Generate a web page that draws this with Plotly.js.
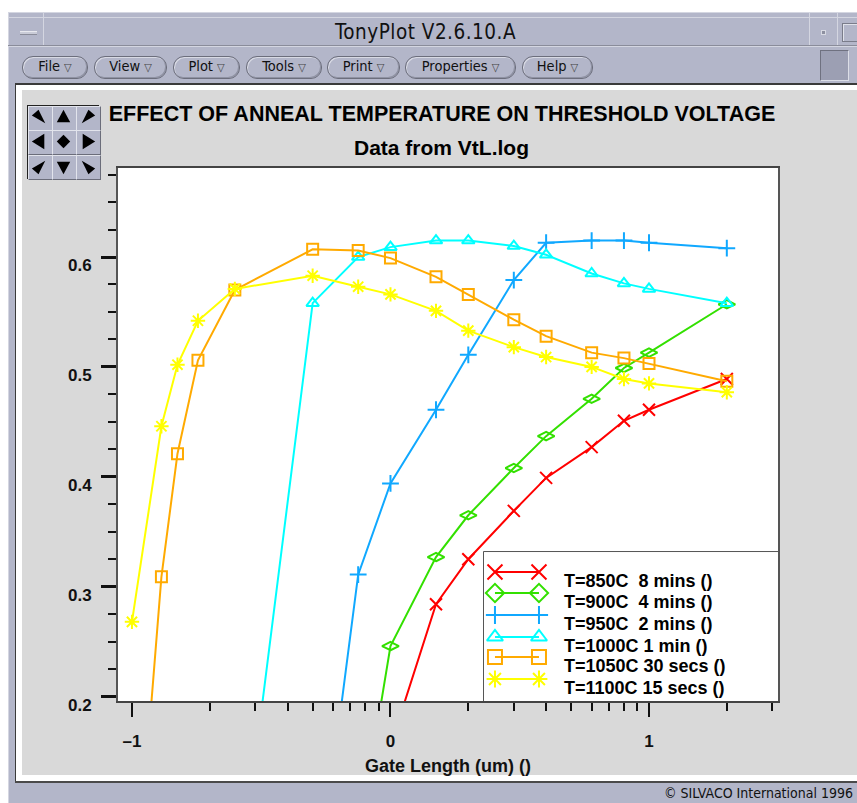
<!DOCTYPE html>
<html><head><meta charset="utf-8">
<script src="https://cdn.plot.ly/plotly-3.0.1.min.js"></script>
<style>
html,body{margin:0;padding:0;background:#fff;}
#wrap{position:relative;width:857px;height:803px;overflow:hidden;background:#fff;font-family:'DejaVu Sans Condensed','Liberation Sans Narrow',sans-serif;color:#111;}
.a{position:absolute;box-sizing:border-box;}
.pill{position:absolute;top:56px;height:21px;border:1px solid #6c6e7c;border-radius:11px;background:#b3b6c9;box-shadow:inset 1px 1px 0 #d8dae4, inset -1px -1px 0 #8f92a3;font-size:14.5px;line-height:19px;text-align:center;color:#111;}
.pill span{font-size:11px;color:#444;margin-left:4px;}
#pan{left:27px;top:105px;width:72px;height:74px;border:1px solid #222;background:#222;}
.cell{position:absolute;width:23px;height:23px;background:#b3b6c9;border-top:1px solid #e2e4ec;border-left:1px solid #e2e4ec;border-right:1px solid #6b6d7a;border-bottom:1px solid #6b6d7a;}
#plot{position:absolute;left:0;top:0;width:857px;height:803px;}
</style></head>
<body><div id="wrap">
<div class="a" style="left:8px;top:12px;width:849px;height:791px;background:#b3b6c9;border-left:1px solid #d4d6e1;border-top:1px solid #d4d6e1;"></div>
<div class="a" style="left:8px;top:17px;width:849px;height:1px;background:#d4d6e1;"></div>
<div class="a" style="left:43px;top:12px;width:1px;height:33px;background:#d4d6e1;"></div>
<div class="a" style="left:809px;top:12px;width:1px;height:33px;background:#d4d6e1;"></div>
<div class="a" style="left:837px;top:12px;width:1px;height:33px;background:#d4d6e1;"></div>
<div class="a" style="left:8px;top:45px;width:849px;height:1px;background:#8a8c9a;"></div>
<div class="a" style="left:8px;top:46px;width:849px;height:1px;background:#d4d6e1;"></div>
<div class="a" style="left:20px;top:31px;width:17px;height:4px;background:#c9cbd7;border-top:1px solid #e8e9ef;border-bottom:1px solid #8a8c9a;"></div>
<div class="a" style="left:821px;top:30px;width:5px;height:5px;background:#8d90a0;border:1px solid #d8dae3;"></div>
<div class="a" style="left:842px;top:23px;width:20px;height:19px;border:1px solid #7a7c8a;box-shadow:inset 1px 1px 0 #e0e2ea;"></div>
<div class="a" style="left:0;top:21px;width:857px;text-align:center;font-size:20.5px;line-height:22px;letter-spacing:0.5px;"><span style="position:relative;left:-3px;">TonyPlot V2.6.10.A</span></div>
<div class="pill" style="left:22px;width:64px;">File<span>&#9661;</span></div>
<div class="pill" style="left:94px;width:71px;">View<span>&#9661;</span></div>
<div class="pill" style="left:173px;width:65px;">Plot<span>&#9661;</span></div>
<div class="pill" style="left:246px;width:74px;">Tools<span>&#9661;</span></div>
<div class="pill" style="left:327px;width:71px;">Print<span>&#9661;</span></div>
<div class="pill" style="left:405px;width:109px;">Properties<span>&#9661;</span></div>
<div class="pill" style="left:522px;width:69px;">Help<span>&#9661;</span></div>
<div class="a" style="left:820px;top:50px;width:29px;height:31px;background:#9c9fb3;border-top:1px solid #6f7180;border-left:1px solid #6f7180;border-right:1px solid #dcdee7;border-bottom:1px solid #dcdee7;"></div>
<div class="a" style="left:15px;top:83px;width:842px;height:2px;background:#3a3a3a;"></div>
<div class="a" style="left:15px;top:83px;width:1px;height:700px;background:#3a3a3a;"></div>
<div class="a" style="left:16px;top:85px;width:841px;height:696px;background:#fff;"></div>
<div class="a" style="left:22px;top:90px;width:835px;height:685px;background:#d9d9d9;"></div>
<div class="a" style="left:15px;top:781px;width:842px;height:2px;background:#4a4a4a;"></div>
<div class="a" style="right:4px;top:784px;font-size:14px;line-height:18px;color:#111;">&copy; SILVACO International 1996</div>
<div class="a" id="pan"></div>
<div id="plot"></div>
</div>
<script>
// ---- Data ----
const seriesNames = ['T=850C\u00a0\u00a08 mins ()', 'T=900C\u00a0\u00a04 mins ()', 'T=950C\u00a0\u00a02 mins ()', 'T=1000C 1 min ()', 'T=1050C 30 secs ()', 'T=1100C 15 secs ()'];

const gateLength850 = [1, 1.5, 2, 3, 4, 6, 8, 10, 20];
const vt850 = [0.155, 0.284, 0.325, 0.369, 0.399, 0.427, 0.451, 0.461, 0.489];

const gateLength900 = [0.75, 1, 1.5, 2, 3, 4, 6, 8, 10, 20];
const vt900 = [0.068, 0.246, 0.327, 0.365, 0.408, 0.437, 0.471, 0.499, 0.513, 0.557];

const gateLength950 = [0.5, 0.75, 1, 1.5, 2, 3, 4, 6, 8, 10, 20];
const vt950 = [-0.01, 0.311, 0.394, 0.461, 0.511, 0.579, 0.613, 0.615, 0.615, 0.613, 0.608];

const gateLength1000 = [0.25, 0.5, 0.75, 1, 1.5, 2, 3, 4, 6, 8, 10, 20];
const vt1000 = [-0.005, 0.558, 0.600, 0.609, 0.615, 0.615, 0.610, 0.602, 0.585, 0.576, 0.571, 0.558];

const gateLength1050 = [0.1, 0.13, 0.15, 0.18, 0.25, 0.5, 0.75, 1, 1.5, 2, 3, 4, 6, 8, 10, 20];
const vt1050 = [-0.027, 0.309, 0.421, 0.506, 0.570, 0.607, 0.606, 0.599, 0.582, 0.566, 0.543, 0.528, 0.513, 0.508, 0.503, 0.487];

const gateLength1100 = [0.1, 0.13, 0.15, 0.18, 0.25, 0.5, 0.75, 1, 1.5, 2, 3, 4, 6, 8, 10, 20];
const vt1100 = [0.268, 0.446, 0.502, 0.542, 0.571, 0.583, 0.573, 0.566, 0.551, 0.533, 0.518, 0.509, 0.500, 0.489, 0.485, 0.477];

const xTickVals = [0.1, 1, 10];
const xTickText = ['\u20131', '0', '1'];
const xMinorVals = [0.2, 0.3, 0.4, 0.5, 0.6, 0.7, 0.8, 0.9, 2, 3, 4, 5, 6, 7, 8, 9, 20, 30];
const yTickVals = [0.2, 0.3, 0.4, 0.5, 0.6];
const yTickText = ['0.2', '0.3', '0.4', '0.5', '0.6'];
const yMinorVals = [0.225, 0.25, 0.275, 0.325, 0.35, 0.375, 0.425, 0.45, 0.475, 0.525, 0.55, 0.575, 0.625, 0.65, 0.675];

// ---- Styles ----
const xs = [gateLength850, gateLength900, gateLength950, gateLength1000, gateLength1050, gateLength1100];
const ys = [vt850, vt900, vt950, vt1000, vt1050, vt1100];
const colors = ['#ff0000', '#33e000', '#10a8ff', '#00ffff', '#ffaa00', '#ffff00'];
const symbols = ['x-thin-open', 'diamond-wide-open', 'cross-thin-open', 'triangle-up-open', 'square-open', 'asterisk-open'];
const sizes = [12, 12, 12, 11, 11, 12];
const legSymbols = ['x-thin-open', 'diamond-open', 'cross-thin-open', 'triangle-up-open', 'square-open', 'asterisk-open'];
const legSizes = [15, 14, 13, 14, 14, 14];

// pan-button grid (window chrome)
(function(){
  const pan = document.getElementById('pan');
  const polys = [
    '4,10 11,4 18,18', '12,4 19,17 5,17', '20,10 13,4 6,18',
    '4,12 17,4 17,20', '12,5 19,12 12,19 5,12', '20,12 7,4 7,20',
    '4,14 11,20 18,6', '12,20 5,7 19,7', '20,14 13,20 6,6'
  ];
  for (let i = 0; i < 9; i++) {
    const c = document.createElement('div');
    c.className = 'cell';
    c.style.left = (i % 3) * 24 + 'px';
    c.style.top = Math.floor(i / 3) * 24.3 + 'px';
    c.innerHTML = '<svg width="23" height="23" viewBox="0 0 24 24" style="position:absolute;left:-1px;top:-1px"><polygon points="' + polys[i] + '" fill="#000"/></svg>';
    pan.appendChild(c);
  }
})();

const traces = [];
for (let i = 0; i < 6; i++) {
  traces.push({
    x: xs[i], y: ys[i], type: 'scatter', mode: 'lines+markers', name: seriesNames[i],
    line: {color: colors[i], width: 2},
    marker: {symbol: symbols[i], size: sizes[i], color: colors[i], line: {color: colors[i], width: 2}},
    cliponaxis: true, hoverinfo: 'x+y+name'
  });
}
// custom legend samples (two markers joined by a line), in legend-box pixel space
const legRowY = [20, 41, 63, 85, 105, 127];
const legendAnn = [];
for (let i = 0; i < 6; i++) {
  traces.push({
    x: [11, 55], y: [legRowY[i], legRowY[i]], xaxis: 'x2', yaxis: 'y2', type: 'scatter', mode: 'lines+markers',
    showlegend: false, hoverinfo: 'skip',
    line: {color: colors[i], width: 2},
    marker: {symbol: legSymbols[i], size: legSizes[i], color: colors[i], line: {color: colors[i], width: 2}}
  });
  legendAnn.push({
    xref: 'x2', yref: 'y2', x: 78, y: legRowY[i] + 9, xanchor: 'left', yanchor: 'middle',
    text: seriesNames[i], showarrow: false,
    font: {family: 'Liberation Sans, Arial, sans-serif', size: 18, weight: 'bold', color: '#000'}
  });
}

const tickFont = {family: 'Liberation Sans, Arial, sans-serif', size: 17, weight: 'bold', color: '#111'};
const layout = {
  width: 857, height: 803,
  margin: {l: 118, r: 79, t: 168, b: 102, pad: 0},
  paper_bgcolor: 'rgba(0,0,0,0)', plot_bgcolor: '#ffffff',
  showlegend: false,
  font: {family: 'Liberation Sans, Arial, sans-serif', color: '#111'},
  title: {
    text: 'EFFECT OF ANNEAL TEMPERATURE ON THRESHOLD VOLTAGE',
    font: {family: 'Liberation Sans, Arial, sans-serif', size: 21.5, weight: 'bold', color: '#000'},
    xref: 'container', x: 442 / 857, xanchor: 'center',
    yref: 'container', y: 1 - 113 / 803, yanchor: 'middle'
  },
  xaxis: {
    type: 'log', range: [-1.054, 1.499], fixedrange: true,
    tickmode: 'array', tickvals: xTickVals, ticktext: xTickText,
    ticks: 'outside', ticklen: 14, tickwidth: 2, tickcolor: '#111',
    showline: true, linecolor: '#444', linewidth: 2, mirror: true,
    showgrid: false, zeroline: false, tickfont: tickFont, ticklabelstandoff: 10,
    minor: {tickmode: 'array', tickvals: xMinorVals, ticks: 'outside', ticklen: 8, tickwidth: 1.5, tickcolor: '#111', showgrid: false},
    title: {text: 'Gate Length (um) ()', font: {family: 'Liberation Sans, Arial, sans-serif', size: 18, weight: 'bold', color: '#111'}, standoff: 9}
  },
  yaxis: {
    range: [0.196, 0.681], fixedrange: true,
    tickmode: 'array', tickvals: yTickVals, ticktext: yTickText,
    ticks: 'outside', ticklen: 15, tickwidth: 2.5, tickcolor: '#111',
    showline: true, linecolor: '#555', linewidth: 2, mirror: true,
    showgrid: false, zeroline: false, tickfont: tickFont, ticklabelstandoff: 6, ticklabelshift: 8,
    minor: {tickmode: 'array', tickvals: yMinorVals, ticks: 'outside', ticklen: 8, tickwidth: 1.5, tickcolor: '#111', showgrid: false}
  },
  xaxis2: {domain: [0.5545, 1], range: [0, 294], anchor: 'y2', visible: false, fixedrange: true},
  yaxis2: {domain: [0, 0.2795], range: [149, 0], anchor: 'x2', visible: false, fixedrange: true},
  shapes: [{
    type: 'rect', xref: 'paper', yref: 'paper', x0: 0.5545, x1: 1, y0: 0, y1: 0.2795,
    fillcolor: '#ffffff', line: {color: '#222', width: 1.5}, layer: 'below'
  }],
  annotations: [{
    xref: 'paper', yref: 'paper', x: (441 - 118) / 660, y: (701 - 147) / 533,
    xanchor: 'center', yanchor: 'middle', showarrow: false, text: 'Data from VtL.log',
    font: {family: 'Liberation Sans, Arial, sans-serif', size: 21, weight: 'bold', color: '#000'}
  }].concat(legendAnn)
};

Plotly.newPlot('plot', traces, layout, {displayModeBar: false, staticPlot: false, responsive: false});
</script>
</body></html>
